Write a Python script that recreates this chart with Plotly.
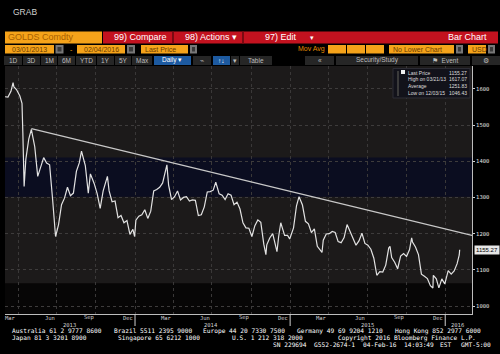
import plotly.graph_objects as go

# ---------------- data ----------------
dates = [
    "2013-03-01", "2013-03-08", "2013-03-15", "2013-03-20", "2013-03-22", "2013-03-28",
    "2013-04-05", "2013-04-10", "2013-04-12", "2013-04-15", "2013-04-19", "2013-04-26",
    "2013-05-02", "2013-05-10", "2013-05-17", "2013-05-24", "2013-05-31", "2013-06-07",
    "2013-06-14", "2013-06-21", "2013-06-28", "2013-07-05", "2013-07-12", "2013-07-19",
    "2013-07-26", "2013-08-02", "2013-08-09", "2013-08-16", "2013-08-23", "2013-08-28",
    "2013-09-06", "2013-09-13", "2013-09-18", "2013-09-27", "2013-10-04", "2013-10-11",
    "2013-10-18", "2013-10-28", "2013-11-01", "2013-11-08", "2013-11-15", "2013-11-22",
    "2013-11-29", "2013-12-06", "2013-12-13", "2013-12-20", "2013-12-27", "2013-12-31",
    "2014-01-03", "2014-01-10", "2014-01-17", "2014-01-24", "2014-01-31", "2014-02-07",
    "2014-02-14", "2014-02-21", "2014-02-28", "2014-03-07", "2014-03-14", "2014-03-17",
    "2014-03-21", "2014-03-28", "2014-04-04", "2014-04-11", "2014-04-18", "2014-04-25",
    "2014-05-02", "2014-05-09", "2014-05-16", "2014-05-23", "2014-05-30", "2014-06-06",
    "2014-06-13", "2014-06-20", "2014-06-27", "2014-07-04", "2014-07-10", "2014-07-18",
    "2014-07-25", "2014-08-01", "2014-08-08", "2014-08-15", "2014-08-22", "2014-08-29",
    "2014-09-05", "2014-09-12", "2014-09-19", "2014-09-26", "2014-10-03", "2014-10-10",
    "2014-10-17", "2014-10-24", "2014-10-31", "2014-11-05", "2014-11-07", "2014-11-14",
    "2014-11-21", "2014-11-28", "2014-12-01", "2014-12-05", "2014-12-10", "2014-12-12",
    "2014-12-19", "2014-12-26", "2014-12-31", "2015-01-09", "2015-01-16", "2015-01-22",
    "2015-01-30", "2015-02-06", "2015-02-13", "2015-02-20", "2015-02-27", "2015-03-06",
    "2015-03-13", "2015-03-17", "2015-03-20", "2015-03-27", "2015-04-03", "2015-04-10",
    "2015-04-17", "2015-04-24", "2015-05-01", "2015-05-08", "2015-05-15", "2015-05-22",
    "2015-05-29", "2015-06-05", "2015-06-12", "2015-06-19", "2015-06-26", "2015-07-03",
    "2015-07-10", "2015-07-17", "2015-07-24", "2015-07-31", "2015-08-07", "2015-08-14",
    "2015-08-21", "2015-08-24", "2015-08-28", "2015-09-04", "2015-09-11", "2015-09-18",
    "2015-09-25", "2015-10-02", "2015-10-09", "2015-10-14", "2015-10-16", "2015-10-23",
    "2015-10-30", "2015-11-06", "2015-11-13", "2015-11-20", "2015-11-27", "2015-12-03",
    "2015-12-04", "2015-12-11", "2015-12-17", "2015-12-24", "2015-12-31", "2016-01-08",
    "2016-01-15", "2016-01-22", "2016-01-29", "2016-02-03", "2016-02-04",
]
prices = [
    1578, 1577, 1593, 1617, 1605, 1598,
    1580, 1560, 1478, 1330, 1405, 1462,
    1488, 1440, 1358, 1385, 1410, 1395,
    1390, 1295, 1192, 1225, 1280, 1298,
    1328, 1305, 1312, 1372, 1396, 1428,
    1388, 1312, 1365, 1338, 1310, 1270,
    1318, 1358, 1318, 1288, 1290, 1244,
    1250, 1230, 1236, 1198, 1212, 1192,
    1237, 1248, 1252, 1266, 1242, 1262,
    1318, 1322, 1328, 1340, 1380, 1390,
    1334, 1294, 1302, 1318, 1293, 1300,
    1302, 1290, 1293, 1292, 1250, 1252,
    1274, 1315, 1316, 1320, 1342, 1310,
    1306, 1294, 1310, 1306, 1280, 1287,
    1268, 1230, 1216, 1215, 1192, 1222,
    1238, 1231, 1171, 1142, 1169, 1188,
    1200, 1168, 1150, 1192, 1230, 1222,
    1195, 1195, 1185, 1216, 1277, 1302,
    1279, 1234, 1227, 1203, 1213, 1165,
    1152, 1148, 1182, 1199, 1200, 1206,
    1203, 1178, 1175, 1189, 1225, 1205,
    1190, 1168, 1180, 1201, 1173, 1168,
    1157, 1132, 1085, 1095, 1094, 1113,
    1160, 1165, 1134, 1121, 1103, 1138,
    1145, 1137, 1156, 1188, 1177, 1163,
    1142, 1088, 1082, 1076, 1056, 1050,
    1085, 1075, 1050, 1075, 1061, 1098,
    1088, 1097, 1117, 1141, 1155.27,
]

trend_dates = ["2013-05-02", "2016-03-04"]
trend_values = [1490, 1195]

y_ticks = [1000, 1100, 1200, 1300, 1400, 1500, 1600]
month_tick_dates = [
    "2013-03-15", "2013-06-15", "2013-09-15", "2013-12-15",
    "2014-03-15", "2014-06-15", "2014-09-15", "2014-12-15",
    "2015-03-15", "2015-06-15", "2015-09-15", "2015-12-15",
]
month_tick_text = ["Mar", "Jun", "Sep", "Dec"] * 3
year_labels = ["2013", "2014", "2015", "2016"]
year_label_dates = ["2013-07-30", "2014-06-29", "2015-07-01", "2016-01-31"]
year_breaks = ["2014-01-01", "2015-01-01", "2016-01-01"]

last_price = 1155.27
stat_names = ["Last Price", "High on 03/21/13", "Average", "Low on 12/03/15"]
stat_values = ["1155.27", "1617.07", "1251.83", "1046.43"]

footer_line1 = ["Australia 61 2 9777 8600", "Brazil 5511 2395 9000", "Europe 44 20 7330 7500",
                "Germany 49 69 9204 1210", "Hong Kong 852 2977 6000"]
footer_line2 = ["Japan 81 3 3201 8900", "Singapore 65 6212 1000", "U.S. 1 212 318 2000",
                "Copyright 2016 Bloomberg Finance L.P."]
footer_line3 = ["SN 229694", "G552-2674-1", "04-Feb-16", "14:03:49", "EST", "GMT-5:00"]

# ---------------- geometry helpers ----------------
L, R, T, B = 5, 472, 66, 314
W, H = 500, 354


def px(x):
    return (x - L) / (R - L)


def py(y):
    return (B - y) / (B - T)


fig = go.Figure()
fig.add_trace(go.Scatter(x=dates, y=prices, mode="lines",
                         line=dict(color="#e2e2e2", width=1.2), hoverinfo="skip"))
fig.add_trace(go.Scatter(x=trend_dates, y=trend_values, mode="lines",
                         line=dict(color="#c8c8c8", width=1.3), hoverinfo="skip"))

shapes = []
annotations = []

# background bands inside the plot
shapes.append(dict(type="rect", xref="paper", yref="y", x0=0, x1=1, y0=1302, y1=1410,
                   fillcolor="#0b0d20", line_width=0, layer="below"))
shapes.append(dict(type="rect", xref="paper", yref="y", x0=0, x1=1, y0=960, y1=1063,
                   fillcolor="#070606", line_width=0, layer="below"))

# month labels and year labels / separators below the axis
for d, t in zip(month_tick_dates, month_tick_text):
    annotations.append(dict(xref="x", yref="paper", x=d, y=py(317.5), text=t, showarrow=False,
                            yanchor="middle",
                            font=dict(family="DejaVu Sans Mono", size=5.5, color="#d0d0d0")))
for d in year_breaks:
    shapes.append(dict(type="line", xref="x", yref="paper", x0=d, x1=d,
                       y0=py(314), y1=py(326), line=dict(color="#cfcfcf", width=1)))
for t, d in zip(year_labels, year_label_dates):
    annotations.append(dict(xref="x", yref="paper", x=d, y=py(324.5), text=t, showarrow=False,
                            yanchor="middle",
                            font=dict(family="DejaVu Sans Mono", size=5.5, color="#d0d0d0")))


def box(x0, x1, y0, y1, color, line=None):
    shapes.append(dict(type="rect", xref="paper", yref="paper",
                       x0=px(x0), x1=px(x1), y0=py(y1), y1=py(y0),
                       fillcolor=color, line=dict(width=1 if line else 0, color=line or color)))


def text(x, y, s, size=7, color="#ffffff", anchor="left", family="Liberation Sans"):
    annotations.append(dict(xref="paper", yref="paper", x=px(x), y=py(y), text=s,
                            showarrow=False, xanchor=anchor, yanchor="middle",
                            font=dict(family=family, size=size, color=color)))


# header
text(11, 12, "GRAB", size=8.5, color="#d0d0d0")

# row 1
box(5, 102, 31.5, 43.5, "#f5a31a")
text(6, 37.5, "GOLDS Comdty", size=9, color="#a85f00")
box(103, 498, 31.5, 43.5, "#c3121f")
box(172, 174, 31.5, 43.5, "#7a0a12")
box(242, 244, 31.5, 43.5, "#7a0a12")
text(112, 37.5, "99) Compare", size=9)
text(183, 37.5, "98) Actions ▾", size=9)
text(263, 37.5, "97) Edit", size=9)
text(308, 37.5, "▾", size=7)
text(489, 37.5, "Bar Chart", size=9, anchor="right")

# row 2
orange_boxes = [(5, 54, "03/01/2013"), (77, 125, "02/04/2016"), (141, 188, "Last Price"),
                (328, 346, ""), (347, 365, ""), (366, 384, ""),
                (389, 454, "No Lower Chart"), (468, 486, "USD")]
for x0, x1, s in orange_boxes:
    box(x0, x1, 45, 53.5, "#f5a31a")
    if s:
        num = s[0].isdigit()
        text((x0 + x1) / 2 if num else x0 + 2, 49.3, s, size=7, color="#6a3c00",
             anchor="center" if num else "left")
for x0, x1 in [(55.5, 63.5), (127, 135), (190, 197), (456, 463), (488, 495)]:
    box(x0, x1, 45, 53.5, "#777777")
    box(x0 + 2, x1 - 2, 47, 51.5, "#3a3a3a")
text(71, 49.3, "-", size=7, color="#f5a31a", anchor="center")
text(296, 49.3, "Mov Avg", size=7, color="#e08a00")

# row 3
dark_buttons = [(4, 22, "1D"), (23, 40, "3D"), (41, 57, "1M"), (58, 75, "6M"), (76, 96, "YTD"),
                (97, 114, "1Y"), (115, 131, "5Y"), (132, 152, "Max"), (193, 211, "⌁"),
                (231, 239, "▾"), (240, 272, "Table"), (305, 334, "«"), (336, 418, "Security/Study"),
                (420, 470, "⚑  Event"), (472, 500, "⚙")]
for x0, x1, s in dark_buttons:
    box(x0, x1, 56, 65, "#262626")
    text((x0 + x1) / 2, 60.5, s, size=6.5, color="#bdbdbd", anchor="center")
box(154, 191, 56, 65, "#1d5aa0")
text(172, 60.5, "Daily ▾", size=6.5, color="#ffffff", anchor="center")
box(213, 230, 56, 65, "#1d5aa0")
text(221.5, 60.5, "↑↓", size=6.5, color="#ffffff", anchor="center")

# stats legend box
box(393, 470, 68.5, 98, "#12121a", line="#2c2c34")
box(397, 399, 71, 96, "#3a3a3a")
box(401, 405, 70, 74, "#f0f0f0")
for i, (n, v) in enumerate(zip(stat_names, stat_values)):
    yy = 72.5 + i * 6.8
    text(405.5, yy, n, size=5, color="#dcdcdc")
    text(469, yy, v, size=5, color="#dcdcdc", anchor="right")

# last price tag
annotations.append(dict(xref="paper", yref="y", x=px(474), y=last_price, text="1155.27",
                        showarrow=False, xanchor="left", yanchor="middle", bgcolor="#e6e6e6",
                        borderpad=1, font=dict(family="Liberation Sans", size=6, color="#000000")))

# footer (monospace pieces placed on a 4.07 px character grid)
mono = "DejaVu Sans Mono"
fs = 6.2
cw = 4.07
col = 0
for s in footer_line1:
    text(10 + col * cw, 330.8, s, size=fs, family=mono)
    col += len(s) + 1
for s, c in zip(footer_line2, [0, 26, 54, 80]):
    text(10 + c * cw, 337.5, s, size=fs, family=mono)
col = 0
start3 = 487 - (sum(len(s) for s in footer_line3) + len(footer_line3)) * cw + cw
for s in footer_line3:
    text(start3 + col * cw, 344.2, s, size=fs, family=mono)
    col += len(s) + (2 if s == "EST" else 1)

fig.update_layout(
    width=W, height=H,
    margin=dict(l=L, r=W - R, t=T, b=H - B, pad=0),
    paper_bgcolor="#000000",
    plot_bgcolor="#1c1a1a",
    showlegend=False,
    shapes=shapes,
    annotations=annotations,
    xaxis=dict(
        type="date", range=["2013-03-01", "2016-03-04"],
        tickmode="array", tickvals=month_tick_dates, showticklabels=False,
        showgrid=False, ticks="", zeroline=False,
        showline=True, linecolor="#bdbdbd", linewidth=1,
        minor=dict(dtick="M3", tick0="2013-01-01", showgrid=True,
                   gridcolor="#3a3838", gridwidth=1, griddash="dot", ticks=""),
    ),
    yaxis=dict(
        side="right", range=[978, 1663], tickmode="array", tickvals=y_ticks,
        showgrid=True, gridcolor="#3e3c3c", gridwidth=1, griddash="dot", zeroline=False,
        ticks="outside", ticklen=2, tickcolor="#d0d0d0",
        tickfont=dict(family="DejaVu Sans Mono", size=5.5, color="#e0e0e0"),
        showline=True, linecolor="#bdbdbd", linewidth=1,
    ),
)

fig.write_html("out.html")
